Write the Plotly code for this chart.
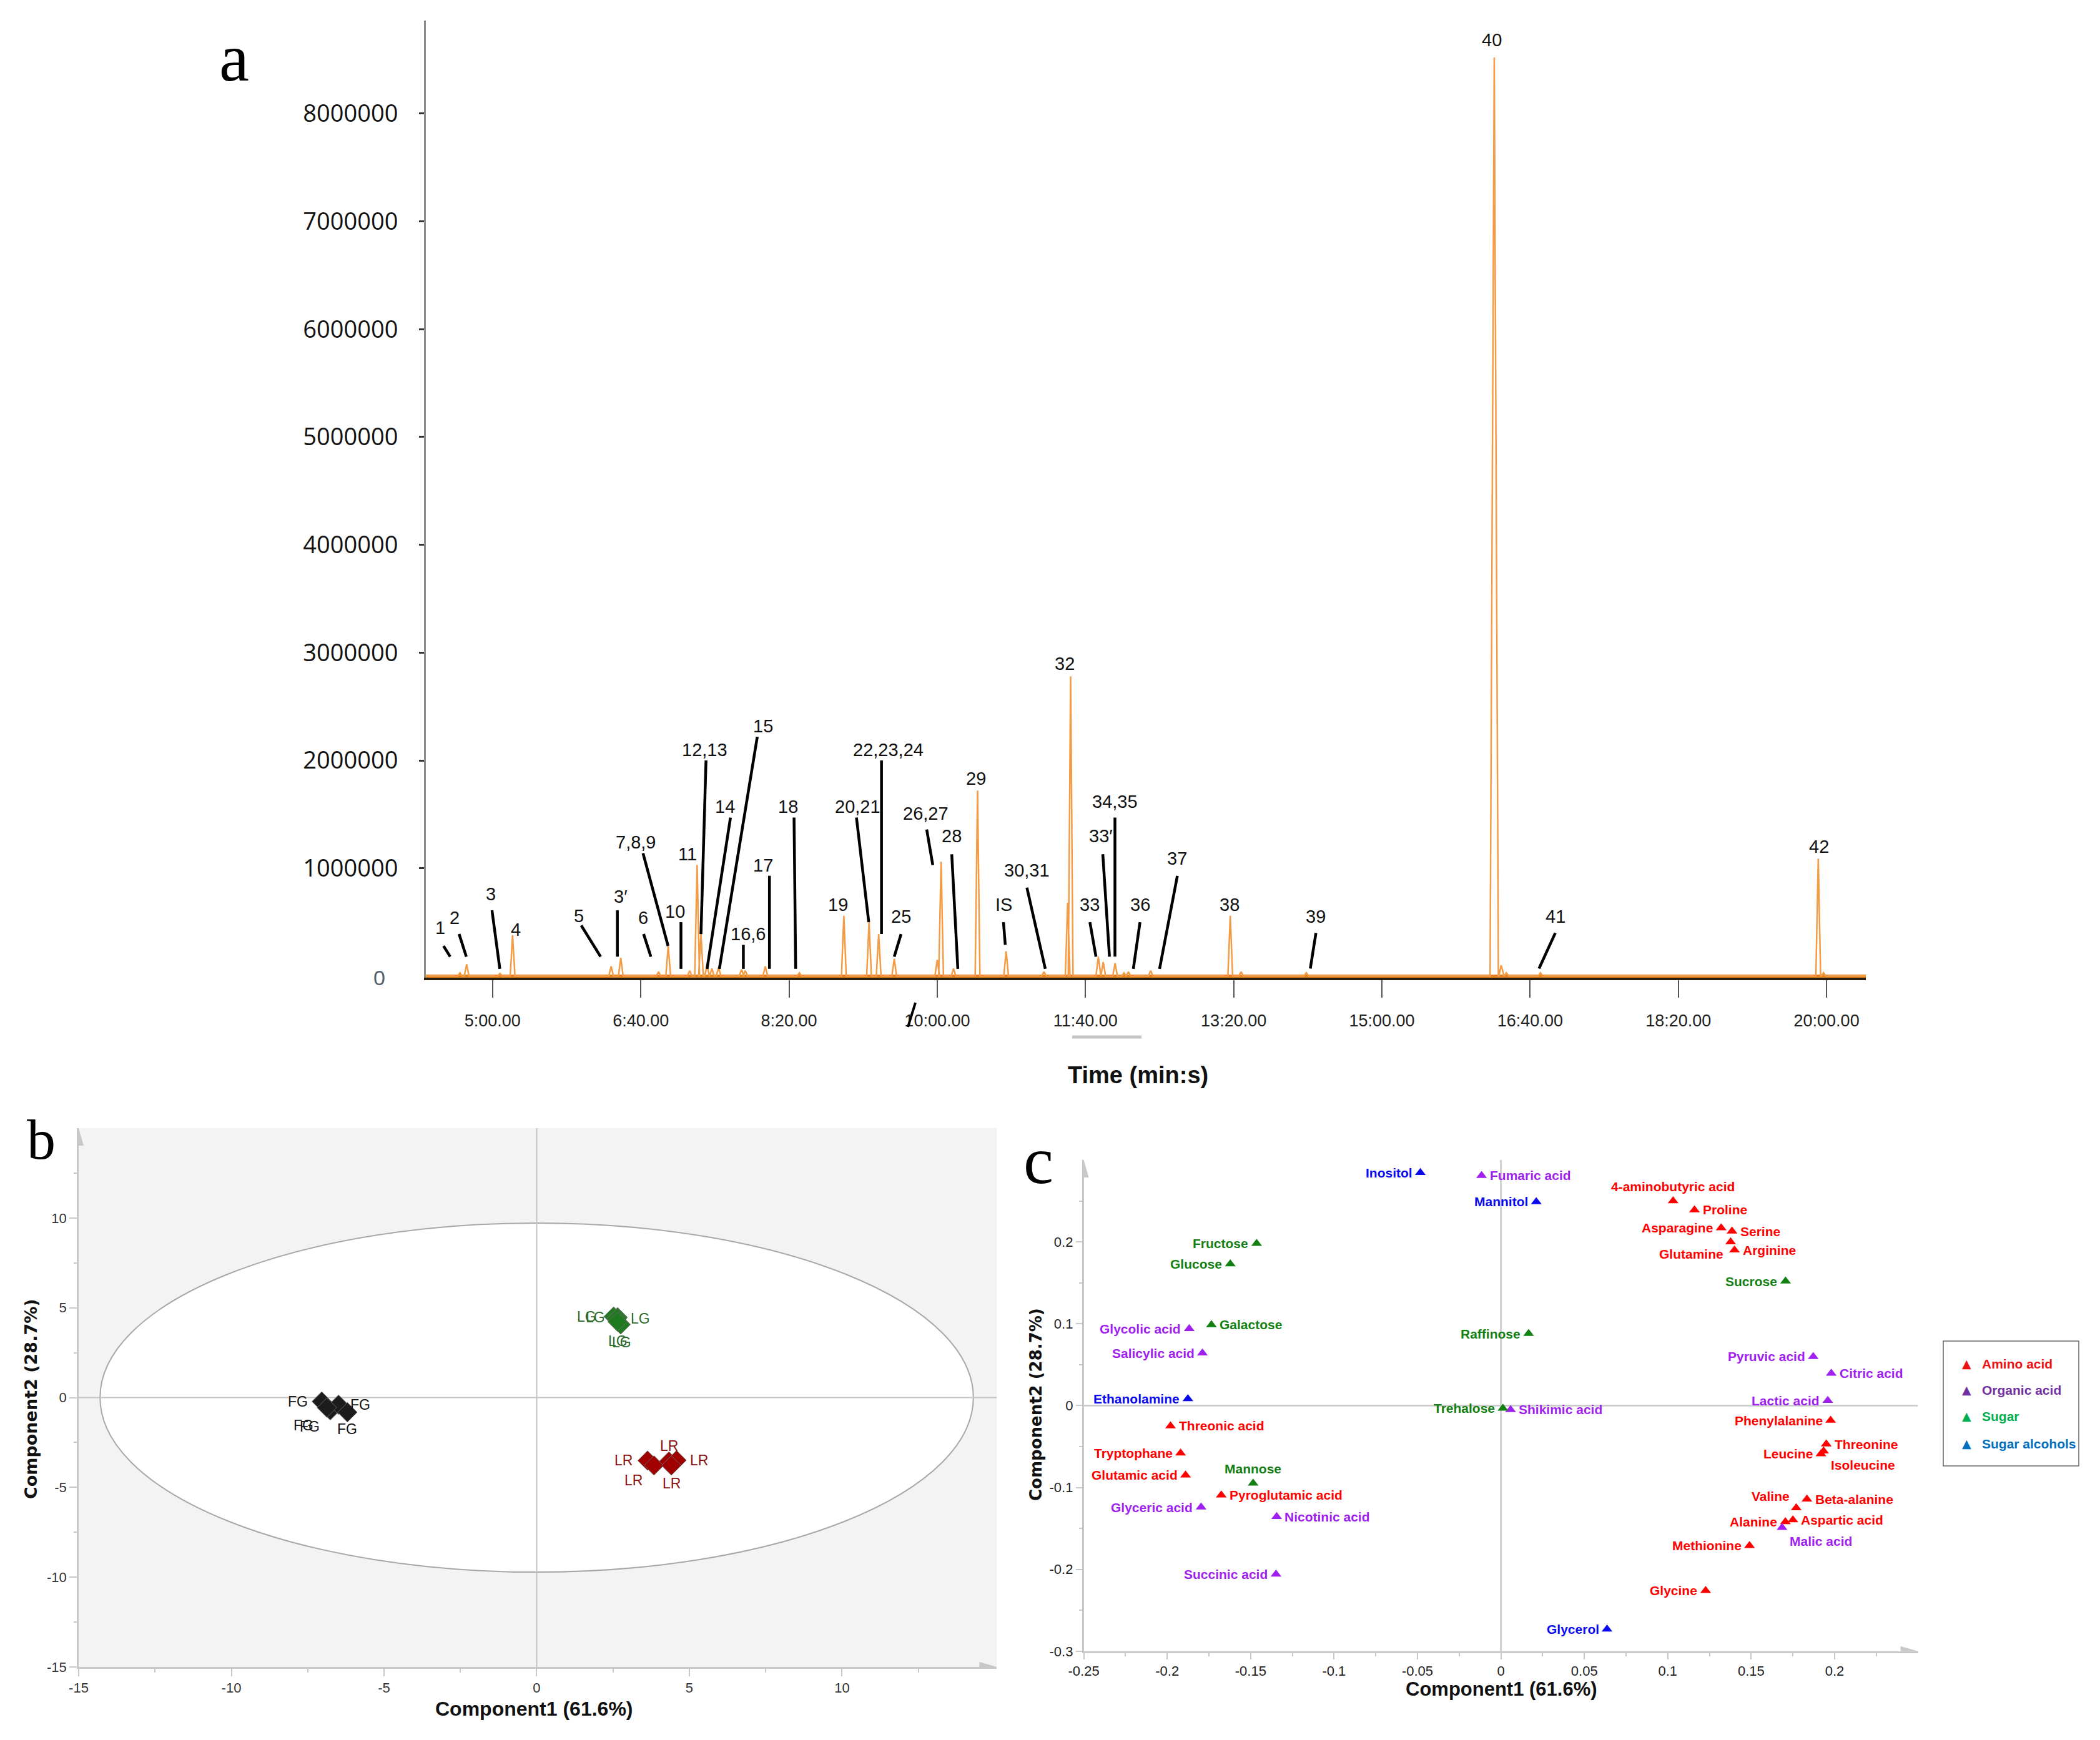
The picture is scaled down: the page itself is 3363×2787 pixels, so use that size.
import plotly.graph_objects as go

W, H = 3363, 2787

# ---------------- Panel a : chromatogram data ----------------
peak_rt_s = [278, 282.5, 305, 313.5, 380, 386.5, 412, 418.5, 433, 438, 440.6, 444.7, 448, 452.5,
             468, 470.5, 484, 507, 537, 554, 560.5, 571, 600, 602.6, 611, 627.2, 646.5, 672, 688,
             690, 708.7, 712, 720, 726, 729, 744, 797.7, 805, 849, 975.8, 980.5, 984, 1007, 1194.4, 1198]
peak_intensity = [0.03e6, 0.11e6, 0.025e6, 0.38e6, 0.09e6, 0.17e6, 0.04e6, 0.28e6, 0.05e6, 1.03e6,
                  0.39e6, 0.10e6, 0.07e6, 0.08e6, 0.06e6, 0.05e6, 0.09e6, 0.03e6, 0.56e6, 0.50e6,
                  0.39e6, 0.16e6, 0.15e6, 1.06e6, 0.07e6, 1.72e6, 0.23e6, 0.04e6, 0.68e6, 2.78e6,
                  0.18e6, 0.13e6, 0.12e6, 0.03e6, 0.04e6, 0.05e6, 0.56e6, 0.04e6, 0.03e6, 8.52e6,
                  0.10e6, 0.03e6, 0.03e6, 1.09e6, 0.03e6]
peak_halfwidth_s = [1.6] * len(peak_rt_s)
peak_halfwidth_s[peak_rt_s.index(975.8)] = 2.8

time_ticks_s = [300, 400, 500, 600, 700, 800, 900, 1000, 1100, 1200]
time_tick_labels = ["5:00.00", "6:40.00", "8:20.00", "10:00.00", "11:40.00", "13:20.00",
                    "15:00.00", "16:40.00", "18:20.00", "20:00.00"]
intensity_ticks = [1e6, 2e6, 3e6, 4e6, 5e6, 6e6, 7e6, 8e6]
intensity_tick_labels = ["1000000", "2000000", "3000000", "4000000", "5000000", "6000000",
                         "7000000", "8000000"]

# peak labels: text, label position (s, millions of counts)
peak_labels = ["1", "2", "3", "4", "5", "3\u2032", "6", "7,8,9", "10", "11", "12,13", "14", "15",
               "16,6", "17", "18", "19", "20,21", "22,23,24", "25", "26,27", "28", "29", "IS",
               "30,31", "32", "33", "33\u2032", "34,35", "36", "37", "38", "39", "40", "41", "42"]
label_t = [264.8, 274.4, 298.9, 315.8, 358.3, 386.5, 401.5, 396.6, 423.3, 431.6, 443.2, 456.8, 482.3,
           472.2, 482.3, 499.2, 533.1, 546.2, 566.9, 575.6, 592.1, 609.8, 626.0, 644.7,
           660.5, 686.1, 703.0, 710.5, 719.9, 736.8, 762.0, 797.0, 855.5, 974.0, 1017.0, 1195.0]
label_i = [0.45, 0.54, 0.76, 0.43, 0.56, 0.74, 0.54, 1.24, 0.60, 1.13, 2.10, 1.57, 2.32,
           0.39, 1.03, 1.57, 0.66, 1.57, 2.10, 0.55, 1.51, 1.30, 1.83, 0.66,
           0.98, 2.90, 0.66, 1.30, 1.62, 0.66, 1.09, 0.66, 0.55, 8.68, 0.55, 1.20]
# leader lines (t0, i0) -> (t1, i1), intensities in millions
leader_lines = [
    (266.9, 0.28, 271.4, 0.18), (277.4, 0.39, 282.3, 0.18), (299.6, 0.61, 304.9, 0.067),
    (359.8, 0.47, 372.9, 0.18), (384.2, 0.61, 384.2, 0.18), (401.9, 0.39, 406.8, 0.18),
    (401.5, 1.14, 418.4, 0.28), (427.1, 0.50, 427.1, 0.067), (444.0, 2.00, 440.6, 0.39),
    (460.5, 1.47, 444.7, 0.067), (478.6, 2.22, 453.0, 0.067), (469.2, 0.29, 469.2, 0.067),
    (486.8, 0.93, 486.8, 0.067), (503.4, 1.47, 504.5, 0.067), (545.5, 1.47, 553.8, 0.50),
    (562.4, 2.00, 562.4, 0.39), (575.6, 0.39, 571.0, 0.18), (592.9, 1.36, 597.0, 1.03),
    (609.8, 1.13, 613.9, 0.067), (644.7, 0.50, 645.9, 0.29), (660.5, 0.82, 672.9, 0.067),
    (703.0, 0.50, 707.1, 0.18), (711.7, 1.13, 716.2, 0.18), (719.9, 1.47, 719.9, 0.18),
    (736.8, 0.50, 732.3, 0.067), (762.0, 0.93, 750.0, 0.067), (855.5, 0.40, 851.7, 0.07),
    (1017.0, 0.40, 1006.0, 0.07)]

# ---------------- Panel b : PCA scores ----------------
fg_x = [-7.04, -6.76, -6.49, -6.20, -6.87]
fg_y = [-0.22, -0.71, -0.40, -0.82, -0.56]
lg_x = [2.52, 2.65, 2.63, 2.75, 2.65]
lg_y = [4.51, 4.47, 4.40, 4.07, 4.22]
lr_x = [3.63, 3.84, 4.33, 4.58, 4.41]
lr_y = [-3.51, -3.78, -3.56, -3.49, -3.78]
score_ticks = [-15, -10, -5, 0, 5, 10]
ellipse_a, ellipse_b = 14.3, 9.72

# ---------------- Panel c : loadings ----------------
amino_names = ["4-aminobutyric acid", "Proline", "Asparagine", "Serine", "Glutamine", "Arginine",
               "Threonic acid", "Tryptophane", "Glutamic acid", "Pyroglutamic acid", "Phenylalanine",
               "Threonine", "Leucine", "Isoleucine", "Valine", "Beta-alanine", "Alanine",
               "Aspartic acid", "Methionine", "Glycine"]
amino_x = [0.1032, 0.116, 0.132, 0.1385, 0.1377, 0.140, -0.198, -0.192, -0.189, -0.1676, 0.1976,
           0.195, 0.1918, 0.1934, 0.177, 0.1834, 0.1705, 0.175, 0.149, 0.1227]
amino_y = [0.250, 0.239, 0.217, 0.213, 0.200, 0.190, -0.0248, -0.058, -0.085, -0.1094, -0.018,
           -0.047, -0.059, -0.0555, -0.125, -0.1143, -0.142, -0.1396, -0.171, -0.226]
organic_names = ["Fumaric acid", "Glycolic acid", "Salicylic acid", "Shikimic acid", "Glyceric acid",
                 "Nicotinic acid", "Succinic acid", "Pyruvic acid", "Citric acid", "Lactic acid",
                 "Malic acid"]
organic_x = [-0.0116, -0.1868, -0.1789, 0.0058, -0.1797, -0.1344, -0.1348, 0.1872, 0.198, 0.1959, 0.1685]
organic_y = [0.281, 0.0939, 0.0642, -0.005, -0.124, -0.1357, -0.206, 0.0598, 0.0394, 0.0063, -0.149]
sugar_names = ["Fructose", "Glucose", "Galactose", "Raffinose", "Sucrose", "Trehalose", "Mannose"]
sugar_x = [-0.1464, -0.1622, -0.1735, 0.0166, 0.1706, 0.0012, -0.1485]
sugar_y = [0.198, 0.173, 0.0987, 0.088, 0.152, -0.0034, -0.0948]
alcohol_names = ["Inositol", "Mannitol", "Ethanolamine", "Glycerol"]
alcohol_x = [-0.0483, 0.0212, -0.1876, 0.0636]
alcohol_y = [0.2845, 0.249, 0.0083, -0.273]
class_names = ["Amino acid", "Organic acid", "Sugar", "Sugar alcohols"]
load_x_ticks = [-0.25, -0.2, -0.15, -0.1, -0.05, 0, 0.05, 0.1, 0.15, 0.2]
load_x_labels = ["-0.25", "-0.2", "-0.15", "-0.1", "-0.05", "0", "0.05", "0.1", "0.15", "0.2"]
load_y_ticks = [-0.3, -0.2, -0.1, 0, 0.1, 0.2]
load_y_labels = ["-0.3", "-0.2", "-0.1", "0", "0.1", "0.2"]

# label placement (style): l = left, r = right, a = above, bl = left+below, br = right+below, al = left+above
amino_pos = ["a", "r", "l", "r", "bl", "r", "r", "l", "l", "r", "l", "r", "l", "br", "al", "r", "l", "r", "l", "l"]
organic_pos = ["r", "l", "l", "r", "l", "r", "l", "l", "r", "l", "br"]
sugar_pos = ["l", "l", "r", "l", "l", "l", "a"]
alcohol_pos = ["l", "l", "l", "l"]

SANS = "Liberation Sans"

# ================= figure =================
fig = go.Figure()


def px_x(p):
    return p / W


def px_y(p):
    return 1 - p / H


# ---- panel a trace
xs, ys = [255.0], [0.0]
for t, h, w in sorted(zip(peak_rt_s, peak_intensity, peak_halfwidth_s)):
    xs += [t - w, t, t + w]
    ys += [0.0, h, 0.0]
xs.append(1226.5)
ys.append(0.0)

fig.add_trace(go.Scatter(x=[255, 1226.5], y=[0, 0], mode="lines", xaxis="x", yaxis="y",
                         line=dict(color="#e8841f", width=5), hoverinfo="skip", showlegend=False))
fig.add_trace(go.Scatter(x=xs, y=ys, mode="lines", xaxis="x", yaxis="y",
                         line=dict(color="#f39b45", width=2.5), showlegend=False))

annotations = []
shapes = []

lab_font = dict(family=SANS, size=29, color="#111")
for txt, t, i in zip(peak_labels, label_t, label_i):
    annotations.append(dict(x=t, y=i * 1e6, xref="x", yref="y", text=txt, showarrow=False,
                            font=lab_font, xanchor="center", yanchor="middle"))
for (t0, i0, t1, i1) in leader_lines:
    shapes.append(dict(type="line", xref="x", yref="y", x0=t0, y0=i0 * 1e6, x1=t1, y1=i1 * 1e6,
                       line=dict(color="black", width=4.5)))

annotations.append(dict(x=px_x(607), y=px_y(1566), xref="paper", yref="paper", text="0",
                        showarrow=False, font=dict(family=SANS, size=34, color="#55606c"),
                        xanchor="center", yanchor="middle"))
annotations.append(dict(x=px_x(1822), y=px_y(1722), xref="paper", yref="paper", text="Time (min:s)",
                        showarrow=False, font=dict(family=SANS, size=38, color="#111", weight="bold"),
                        xanchor="center", yanchor="middle"))
# small artefacts of the original figure
shapes.append(dict(type="line", xref="paper", yref="paper", x0=px_x(1454), y0=px_y(1645),
                   x1=px_x(1466), y1=px_y(1606), line=dict(color="black", width=4)))
shapes.append(dict(type="line", xref="paper", yref="paper", x0=px_x(1717), y0=px_y(1661),
                   x1=px_x(1828), y1=px_y(1661), line=dict(color="#c4c4c4", width=5)))

# panel letters
for txt, cx, cy, sz in [("a", 375, 92, 108), ("b", 66, 1825, 92), ("c", 1663, 1858, 108)]:
    annotations.append(dict(x=px_x(cx), y=px_y(cy), xref="paper", yref="paper", text=txt,
                            showarrow=False, font=dict(family="Liberation Serif", size=sz, color="black"),
                            xanchor="center", yanchor="middle"))

# ---- panel b
shapes.append(dict(type="rect", xref="x2 domain", yref="y2 domain", x0=0, x1=1, y0=0, y1=1,
                   fillcolor="#f3f3f3", line=dict(width=0), layer="below"))
shapes.append(dict(type="circle", xref="x2", yref="y2", x0=-ellipse_a, x1=ellipse_a,
                   y0=-ellipse_b, y1=ellipse_b, fillcolor="white",
                   line=dict(color="#a8a8a8", width=2), layer="below"))
shapes.append(dict(type="line", xref="x2", yref="y2", x0=0, x1=0, y0=-15, y1=15,
                   line=dict(color="#c4c4c4", width=2), layer="below"))
shapes.append(dict(type="line", xref="x2", yref="y2", x0=-15, x1=15.07, y0=0, y1=0,
                   line=dict(color="#c4c4c4", width=2), layer="below"))

groups_b = [("FG", fg_x, fg_y, "#1c1c1c", "#111111",
             [(-38, 0), (-33, 26), (35, 0), (0, 27), (-38, 28)]),
            ("LG", lg_x, lg_y, "#1f7a1f", "#2a6a2a",
             [(-43, 0), (-36, 0), (37, 0), (2, 29), (0, 31)]),
            ("LR", lr_x, lr_y, "#a00000", "#8b1010",
             [(-38, 0), (-33, 24), (0, -25), (36, 0), (0, 29)])]
for name, gx, gy, mc, tc, offs in groups_b:
    fig.add_trace(go.Scatter(x=gx, y=gy, mode="markers", xaxis="x2", yaxis="y2", name=name,
                             marker=dict(symbol="diamond", size=24, color=mc,
                                         line=dict(color="#666", width=1)),
                             showlegend=False))
    for x, y, (dx, dy) in zip(gx, gy, offs):
        annotations.append(dict(x=x, y=y, xref="x2", yref="y2", text=name, showarrow=False,
                                xshift=dx, yshift=-dy, xanchor="center", yanchor="middle",
                                font=dict(family=SANS, size=23, color=tc)))

annotations.append(dict(x=px_x(855), y=px_y(2737), xref="paper", yref="paper",
                        text="Component1 (61.6%)", showarrow=False,
                        font=dict(family=SANS, size=32, color="#111", weight="bold"),
                        xanchor="center", yanchor="middle"))
annotations.append(dict(x=px_x(49), y=px_y(2241), xref="paper", yref="paper",
                        text="Component2 (28.7%)", showarrow=False, textangle=-90,
                        font=dict(family="DejaVu Sans", size=27, color="#111", weight="bold"),
                        xanchor="center", yanchor="middle"))
# axis arrow heads (b)
shapes.append(dict(type="path", xref="x2", yref="y2", xsizemode="pixel", ysizemode="pixel",
                   xanchor=-15, yanchor=15, path="M -8 -28 L 8 -28 L 0 0 Z",
                   fillcolor="#c8c8c8", line=dict(width=0)))
shapes.append(dict(type="path", xref="x2", yref="y2", xsizemode="pixel", ysizemode="pixel",
                   xanchor=15.07, yanchor=-15, path="M -28 -8 L -28 8 L 0 0 Z",
                   fillcolor="#c8c8c8", line=dict(width=0)))

# ---- panel c
shapes.append(dict(type="line", xref="x3", yref="y3", x0=0, x1=0, y0=-0.3, y1=0.3,
                   line=dict(color="#c8c8c8", width=2.5), layer="below"))
shapes.append(dict(type="line", xref="x3", yref="y3", x0=-0.25, x1=0.25, y0=0, y1=0,
                   line=dict(color="#c8c8c8", width=2.5), layer="below"))
shapes.append(dict(type="path", xref="x3", yref="y3", xsizemode="pixel", ysizemode="pixel",
                   xanchor=-0.25, yanchor=0.3, path="M -8 -28 L 8 -28 L 0 0 Z",
                   fillcolor="#c8c8c8", line=dict(width=0)))
shapes.append(dict(type="path", xref="x3", yref="y3", xsizemode="pixel", ysizemode="pixel",
                   xanchor=0.25, yanchor=-0.3, path="M -28 -8 L -28 8 L 0 0 Z",
                   fillcolor="#c8c8c8", line=dict(width=0)))

classes_c = [(amino_names, amino_x, amino_y, amino_pos, "#ff0000", "#ee1111"),
             (organic_names, organic_x, organic_y, organic_pos, "#a020f0", "#7030a0"),
             (sugar_names, sugar_x, sugar_y, sugar_pos, "#128012", "#00b050"),
             (alcohol_names, alcohol_x, alcohol_y, alcohol_pos, "#0a0aee", "#0070c0")]
pos_map = {"l": ("right", -11, 0), "r": ("left", 11, 0), "a": ("center", 0, 23),
           "bl": ("right", -10, -19), "br": ("left", 10, -22), "al": ("right", -9, 19)}
for (names, cx, cy, cpos, col, _), cname in zip(classes_c, class_names):
    fig.add_trace(go.Scatter(x=cx, y=cy, mode="markers", xaxis="x3", yaxis="y3", name=cname,
                             marker=dict(symbol="triangle-up", size=15, color=col),
                             text=names, showlegend=False))
    for n, x, y, p in zip(names, cx, cy, cpos):
        xa, dx, dy = pos_map[p]
        annotations.append(dict(x=x, y=y, xref="x3", yref="y3", text=n, showarrow=False,
                                xanchor=xa, yanchor="middle", xshift=dx, yshift=dy,
                                font=dict(family=SANS, size=21, color=col, weight="bold")))

annotations.append(dict(x=px_x(2404), y=px_y(2705), xref="paper", yref="paper",
                        text="Component1 (61.6%)", showarrow=False,
                        font=dict(family=SANS, size=31, color="#111", weight="bold"),
                        xanchor="center", yanchor="middle"))
annotations.append(dict(x=px_x(1659), y=px_y(2250), xref="paper", yref="paper",
                        text="Component2 (28.7%)", showarrow=False, textangle=-90,
                        font=dict(family="DejaVu Sans", size=26, color="#111", weight="bold"),
                        xanchor="center", yanchor="middle"))

# manual legend for panel c
shapes.append(dict(type="rect", xref="paper", yref="paper", x0=px_x(3112), x1=px_x(3329),
                   y0=px_y(2348), y1=px_y(2148), line=dict(color="#666", width=1.5),
                   fillcolor="white"))
for k, ((_, _, _, _, _, lcol), cname) in enumerate(zip(classes_c, class_names)):
    yy = [2184, 2226, 2268, 2312][k]
    annotations.append(dict(x=px_x(3149), y=px_y(yy), xref="paper", yref="paper", text="\u25b2",
                            showarrow=False, xanchor="center", yanchor="middle",
                            font=dict(family="DejaVu Sans", size=19, color=lcol)))
    annotations.append(dict(x=px_x(3172), y=px_y(yy), xref="paper", yref="paper", text=cname,
                            showarrow=False, xanchor="left", yanchor="middle",
                            font=dict(family=SANS, size=21, color=lcol, weight="bold")))

tick_b = dict(family=SANS, size=22, color="#333")

# ================= axes =================
fig.update_layout(
    template="none",
    width=W, height=H, margin=dict(l=0, r=0, t=0, b=0, autoexpand=False),
    paper_bgcolor="white", plot_bgcolor="rgba(0,0,0,0)", showlegend=False,
    xaxis=dict(domain=[px_x(682), px_x(2988)], range=[255, 1226.5], anchor="y", automargin=False,
               showline=True, linecolor="#2b1d0e", linewidth=4, ticks="outside", ticklen=28,
               tickwidth=1.5, tickcolor="#555", tickmode="array", tickvals=time_ticks_s,
               ticktext=time_tick_labels, ticklabelstandoff=14,
               tickfont=dict(family=SANS, size=27, color="#222"),
               showgrid=False, zeroline=False),
    yaxis=dict(domain=[px_y(1566), px_y(33)], range=[-0.015e6, 8.862e6], anchor="x", automargin=False,
               showline=True, linecolor="#8a8a8a", linewidth=3, ticks="outside", ticklen=8,
               tickwidth=3, tickcolor="#333", tickmode="array", tickvals=intensity_ticks,
               ticktext=intensity_tick_labels, ticklabelstandoff=26,
               tickfont=dict(family="Open Sans", size=38, color="#111"),
               showgrid=False, zeroline=False),
    xaxis2=dict(domain=[px_x(126), px_x(1596.4)], range=[-15, 15.07], anchor="y2", automargin=False,
                showline=True, linecolor="#c8c8c8", linewidth=2.5, ticks="outside", ticklen=12,
                tickwidth=2, tickcolor="#c8c8c8", tickmode="array", tickvals=score_ticks,
                ticktext=[str(v) for v in score_ticks], tickfont=tick_b,
                minor=dict(tickmode="array", tickvals=[-12.5, -7.5, -2.5, 2.5, 7.5, 12.5],
                           ticks="outside", ticklen=6, tickwidth=2, tickcolor="#c8c8c8"),
                showgrid=False, zeroline=False),
    yaxis2=dict(domain=[px_y(2670), px_y(1807)], range=[-15, 15], anchor="x2", automargin=False,
                showline=True, linecolor="#c8c8c8", linewidth=2.5, ticks="outside", ticklen=12,
                tickwidth=2, tickcolor="#c8c8c8", tickmode="array", tickvals=score_ticks,
                ticktext=[str(v) for v in score_ticks], tickfont=tick_b,
                minor=dict(tickmode="array", tickvals=[-12.5, -7.5, -2.5, 2.5, 7.5, 12.5],
                           ticks="outside", ticklen=5, tickwidth=2, tickcolor="#c8c8c8"),
                showgrid=False, zeroline=False),
    xaxis3=dict(domain=[px_x(1735.6), px_x(3071.6)], range=[-0.25, 0.25], anchor="y3", automargin=False,
                showline=True, linecolor="#c8c8c8", linewidth=2.5, ticks="outside", ticklen=10,
                tickwidth=2, tickcolor="#c8c8c8", tickmode="array", tickvals=load_x_ticks,
                ticktext=load_x_labels, tickfont=dict(family=SANS, size=22, color="#222"),
                minor=dict(tickmode="array",
                           tickvals=[-0.225, -0.175, -0.125, -0.075, -0.025, 0.025, 0.075, 0.125,
                                     0.175, 0.225],
                           ticks="outside", ticklen=5, tickwidth=2, tickcolor="#c8c8c8"),
                showgrid=False, zeroline=False),
    yaxis3=dict(domain=[px_y(2644.8), px_y(1858)], range=[-0.3, 0.3], anchor="x3", automargin=False,
                showline=True, linecolor="#c8c8c8", linewidth=2.5, ticks="outside", ticklen=10,
                tickwidth=2, tickcolor="#c8c8c8", tickmode="array", tickvals=load_y_ticks,
                ticktext=load_y_labels, tickfont=dict(family=SANS, size=22, color="#222"),
                minor=dict(tickmode="array", tickvals=[-0.25, -0.15, -0.05, 0.05, 0.15, 0.25],
                           ticks="outside", ticklen=5, tickwidth=2, tickcolor="#c8c8c8"),
                showgrid=False, zeroline=False),
    annotations=annotations, shapes=shapes,
)

fig.write_html("out.html")
